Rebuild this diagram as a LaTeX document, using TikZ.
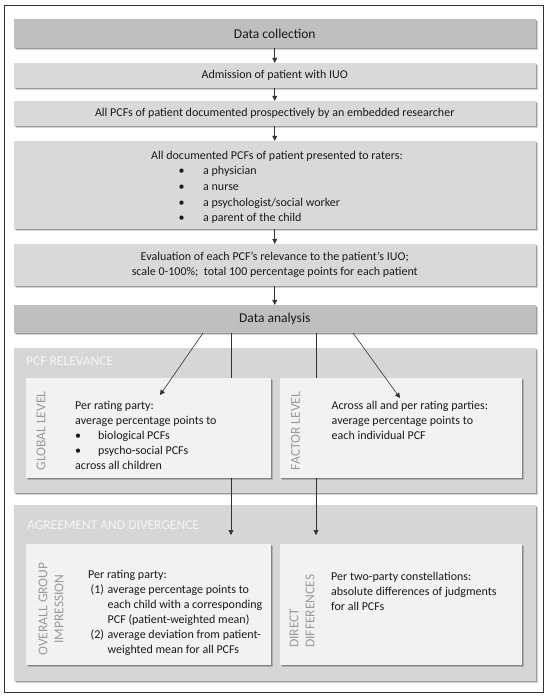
\documentclass[tikz,border=0pt]{standalone}
\usepackage{fontspec}
\setmainfont{Carlito}
\usetikzlibrary{shadows,arrows.meta,calc}
\definecolor{hdrfill}{HTML}{BFBFBF}
\definecolor{stepfill}{HTML}{D9D9D9}
\definecolor{panelfill}{HTML}{D6D6D6}
\definecolor{innerfill}{HTML}{F2F2F2}
\definecolor{txtcol}{HTML}{1A1A1A}
\definecolor{lblcol}{HTML}{9A9A9A}
\definecolor{linecol}{HTML}{333333}
\begin{document}
\begin{tikzpicture}[x=1pt,y=-1pt,
  shad/.style={
    drop shadow={shadow xshift=1pt,shadow yshift=-1pt,fill=black,opacity=0.25},
    drop shadow={shadow xshift=2.2pt,shadow yshift=-2.2pt,fill=black,opacity=0.18}},
  boxbase/.style={rectangle,inner sep=0pt,anchor=center,shad,text=txtcol,align=center},
  hdrbox/.style={boxbase,fill=hdrfill,font=\fontsize{13.5}{16}\selectfont},
  stepbox/.style={boxbase,fill=stepfill,font=\fontsize{12}{15}\selectfont},
  panelbox/.style={boxbase,fill=panelfill},
  innerbox/.style={boxbase,fill=innerfill},
  body/.style={inner sep=0pt,text=txtcol,font=\fontsize{12}{15}\selectfont,anchor=base west},
  paneltitle/.style={inner sep=0pt,text=white!96!black,font=\fontsize{13.5}{16}\selectfont,anchor=west},
  sidelabel/.style={inner sep=0pt,text=lblcol,font=\fontsize{13.5}{16}\selectfont,rotate=90},
  arr/.style={draw=linecol,line width=0.6pt,-{Triangle[length=5pt,width=5pt]}}
]
\useasboundingbox (0,0) rectangle (550,696);
\draw[black!80,line width=0.8pt] (4,5) rectangle (543,692);

% top column
\node[hdrbox,minimum width=522.5pt,minimum height=29pt] (dc) at (274.75,33.5) {Data collection};
\node[stepbox,minimum width=522.5pt,minimum height=25pt] (adm) at (274.75,75.5) {Admission of patient with IUO};
\node[stepbox,minimum width=522.5pt,minimum height=25pt] (doc) at (274.75,113.5) {All PCFs of patient documented prospectively by an embedded researcher};
\node[stepbox,minimum width=522.5pt,minimum height=88pt] (pres) at (274.75,185) {};
\node[stepbox,minimum width=522.5pt,minimum height=42pt] (eval) at (274.75,265) {Evaluation of each PCF's relevance to the patient's IUO;\\scale 0-100\%;\ \ total 100 percentage points for each patient};
\node[hdrbox,minimum width=522.5pt,minimum height=28pt] (da) at (274.75,319) {Data analysis};

\node[body,anchor=base] (prestitle) at (277,159) {All documented PCFs of patient presented to raters:};
\node[body] (preslist) at (178.5,174.5) {\fontsize{12}{15.8}\selectfont\begin{tabular}[t]{@{}l@{}}
\makebox[24.5pt][l]{\textbullet}a physician\\
\makebox[24.5pt][l]{\textbullet}a nurse\\
\makebox[24.5pt][l]{\textbullet}a psychologist/social worker\\
\makebox[24.5pt][l]{\textbullet}a parent of the child
\end{tabular}};

\draw[arr] (dc) -- (adm);
\draw[arr] (adm) -- (doc);
\draw[arr] (doc) -- (pres);
\draw[arr] (pres) -- (eval);
\draw[arr] (eval) -- (da);

% panels
\node[panelbox,minimum width=522.5pt,minimum height=145pt] (p1) at (274.75,420.5) {};
\node[panelbox,minimum width=522.5pt,minimum height=176pt] (p2) at (274.75,593) {};
\node[paneltitle] (p1t) at (26,361) {PCF RELEVANCE};
\node[paneltitle] (p2t) at (27,525) {AGREEMENT AND DIVERGENCE};

% connectors from data analysis
\coordinate (s1) at (203,333);
\coordinate (t1) at (160,395);
\coordinate (s2) at (353,333);
\coordinate (t2) at (400,398);
\coordinate (s3) at (231,333);
\coordinate (t3) at (231,535);
\coordinate (s4) at (316,333);
\coordinate (t4) at (316,535);
\draw[arr] (s3) -- (t3);
\draw[arr] (s4) -- (t4);

% inner boxes
\node[innerbox,minimum width=245pt,minimum height=100pt] (glob) at (148.5,428) {};
\node[innerbox,minimum width=242pt,minimum height=100pt] (fact) at (401,428) {};
\node[innerbox,minimum width=245pt,minimum height=121pt] (over) at (148.5,604.5) {};
\node[innerbox,minimum width=242pt,minimum height=121pt] (dir) at (401,604.5) {};

\draw[arr] (s1) -- (t1);
\draw[arr] (s2) -- (t2);

% side labels
\node[sidelabel] (globl) at (41,431) {GLOBAL LEVEL};
\node[sidelabel] (factl) at (295.5,431) {FACTOR LEVEL};
\node[sidelabel,align=center] (overl) at (51,609) {OVERALL GROUP\\IMPRESSION};
\node[sidelabel,align=left,anchor=west] (dirl) at (302,648) {DIRECT\\DIFFERENCES};

% texts
\node[body] (globt) at (75,409) {\begin{tabular}[t]{@{}l@{}}
Per rating party:\\
average percentage points to\\
\makebox[23pt][l]{\textbullet}biological PCFs\\
\makebox[23pt][l]{\textbullet}psycho-social PCFs\\
across all children
\end{tabular}};
\node[body] (factt) at (331.5,409) {\begin{tabular}[t]{@{}l@{}}
Across all and per rating parties:\\
average percentage points to\\
each individual PCF
\end{tabular}};
\node[body] (overt) at (88,578) {\begin{tabular}[t]{@{}l@{}}
Per rating party:\\
\hspace{2.5pt}\makebox[17pt][l]{(1)}average percentage points to\\
\hspace{19.5pt}each child with a corresponding\\
\hspace{19.5pt}PCF (patient-weighted mean)\\
\hspace{2.5pt}\makebox[17pt][l]{(2)}average deviation from patient-\\
\hspace{19.5pt}weighted mean for all PCFs
\end{tabular}};
\node[body] (dirt) at (331,580) {\begin{tabular}[t]{@{}l@{}}
Per two-party constellations:\\
absolute differences of judgments\\
for all PCFs
\end{tabular}};
\end{tikzpicture}
\end{document}
